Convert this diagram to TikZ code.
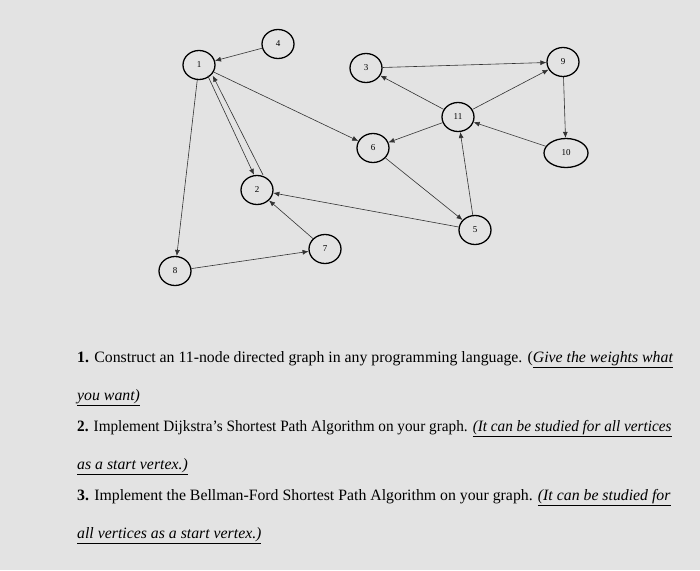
\documentclass[tikz,border=0pt]{standalone}
\usepackage{fontspec}
\usepackage{graphicx}
\setmainfont{Liberation Serif}
\usetikzlibrary{shapes.geometric,arrows.meta}
\begin{document}
\begin{tikzpicture}[x=1pt,y=-1pt,
  vtx/.style={ellipse,draw,line width=1.3pt,minimum width=32pt,minimum height=29pt,inner sep=0pt,font=\fontsize{9}{10}\selectfont},
  edge/.style={-{Latex[length=6pt,width=5pt]},line width=0.6pt,draw=black!80},
  txt/.style={anchor=base west,inner sep=0pt,font=\fontsize{15.8}{18}\selectfont}]
\fill[gray!22] (0,0) rectangle (700,570);
\useasboundingbox (0,0) rectangle (700,570);
\node[vtx] (n1) at (199,65) {1};
\node[vtx] (n4) at (278,44) {4};
\node[vtx] (n3) at (366,68) {3};
\node[vtx] (n9) at (563,62) {9};
\node[vtx] (n11) at (458,117) {11};
\node[vtx] (n6) at (373,148) {6};
\node[vtx,minimum width=44pt] (n10) at (566,153) {10};
\node[vtx] (n2) at (257,190) {2};
\node[vtx] (n5) at (475,230) {5};
\node[vtx] (n7) at (325,249) {7};
\node[vtx] (n8) at (175,271) {8};
\draw[edge] (n4) -- (n1);
\draw[edge] (n1) -- (n6);
\draw[edge] ([xshift=-3pt]n1.south east) -- ([xshift=-3pt]n2.north);
\draw[edge] ([xshift=6pt]n2.north) -- ([xshift=2pt]n1.south east);
\draw[edge] (n1) -- (n8);
\draw[edge] (n8) -- (n7);
\draw[edge] (n7) -- (n2);
\draw[edge] (n5) -- (n2);
\draw[edge] (n6) -- (n5);
\draw[edge] (n5) -- (n11);
\draw[edge] (n11) -- (n6);
\draw[edge] (n11) -- (n3);
\draw[edge] (n3) -- (n9);
\draw[edge] (n11) -- (n9);
\draw[edge] (n9) -- (n10);
\draw[edge] (n10) -- (n11);
\node[txt] (l1) at (77,362) {\textbf{1.} Construct an 11-node directed graph in any programming language. (\underline{\textit{Give the weights what}}};
\node[txt] (l2) at (77,400) {\underline{\textit{you want)}}};
\node[txt] (l3) at (77,431) {\scalebox{0.964}[1]{\textbf{2.} Implement Dijkstra’s Shortest Path Algorithm on your graph. \underline{\textit{(It can be studied for all vertices}}}};
\node[txt] (l4) at (77,469) {\underline{\textit{as a start vertex.)}}};
\node[txt] (l5) at (77,500) {\textbf{3.} Implement the Bellman-Ford Shortest Path Algorithm on your graph. \underline{\textit{(It can be studied for}}};
\node[txt] (l6) at (77,538) {\underline{\textit{all vertices as a start vertex.)}}};
\end{tikzpicture}
\end{document}
